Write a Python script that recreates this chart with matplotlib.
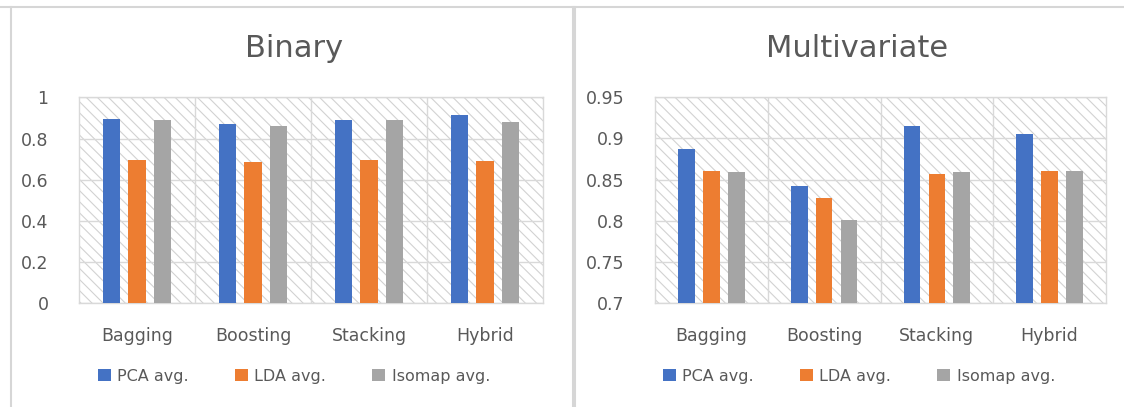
import matplotlib

matplotlib.use("Agg")
import matplotlib.pyplot as plt
from matplotlib.lines import Line2D
from matplotlib.patches import Patch, Rectangle
import numpy as np

categories = ["Bagging", "Boosting", "Stacking", "Hybrid"]
series_names = ["PCA avg.", "LDA avg.", "Isomap avg."]
colors = ["#4472C4", "#ED7D31", "#A5A5A5"]

# Binary
binary_pca = [0.895, 0.870, 0.890, 0.916]
binary_lda = [0.696, 0.684, 0.696, 0.691]
binary_iso = [0.888, 0.862, 0.888, 0.882]
binary_ticks = [0, 0.2, 0.4, 0.6, 0.8, 1.0]
binary_ticklabels = ["0", "0.2", "0.4", "0.6", "0.8", "1"]

# Multivariate
multi_pca = [0.887, 0.842, 0.915, 0.906]
multi_lda = [0.861, 0.828, 0.857, 0.861]
multi_iso = [0.859, 0.801, 0.859, 0.861]
multi_ticks = [0.7, 0.75, 0.8, 0.85, 0.9, 0.95]
multi_ticklabels = ["0.7", "0.75", "0.8", "0.85", "0.9", "0.95"]

W, H = 1124, 407
TEXT = "#595959"
GRID = "#d9d9d9"

plt.rcParams["font.family"] = ["DejaVu Sans"]
plt.rcParams["hatch.linewidth"] = 0.8

fig = plt.figure(figsize=(W / 100, H / 100), dpi=100)


def px(x0, y0, x1, y1):
    # pixel box (top-left origin) -> figure fraction rect
    return [x0 / W, 1 - y1 / H, (x1 - x0) / W, (y1 - y0) / H]


def draw_panel(rect, title, title_x, data, ticks, ticklabels, legend_x):
    ax = fig.add_axes(rect)
    ax.set_xlim(-0.5, len(categories) - 0.5)
    ax.set_ylim(ticks[0], ticks[-1])
    ax.add_patch(Rectangle((0, 0), 1, 1, transform=ax.transAxes, facecolor="white",
                           edgecolor="#d2d2d2", hatch="\\\\\\", lw=0, zorder=0))
    for t in ticks:
        ax.axhline(t, color=GRID, lw=1.0, zorder=1)
    for b in np.arange(0.5, len(categories) - 0.5, 1.0):
        ax.axvline(b, color=GRID, lw=1.0, zorder=1)
    x = np.arange(len(categories))
    offsets = [-0.22, 0.0, 0.22]
    for vals, off, c in zip(data, offsets, colors):
        ax.bar(x + off, vals, width=0.148, color=c, zorder=3)
    for s in ax.spines.values():
        s.set_color(GRID)
        s.set_linewidth(1.0)
    ax.set_yticks(ticks)
    ax.set_yticklabels(ticklabels)
    ax.set_xticks(x)
    ax.set_xticklabels(categories)
    ax.tick_params(axis="y", length=0, pad=22, labelsize=12.5, labelcolor=TEXT)
    ax.tick_params(axis="x", length=0, pad=17, labelsize=12.5, labelcolor=TEXT)
    fig.text(title_x / W, 1 - 57 / H, title, ha="center", va="baseline",
             fontsize=22, color=TEXT)
    handles = [Patch(facecolor=c, edgecolor="none") for c in colors]
    fig.legend(handles, series_names, loc="center", bbox_to_anchor=(legend_x / W, 1 - 376 / H),
               ncol=3, frameon=False, fontsize=11.5, labelcolor=TEXT,
               handlelength=0.8, handleheight=0.8, handletextpad=0.4, columnspacing=2.9)
    return ax


draw_panel(px(79, 97.3, 543, 303.3), "Binary", 294,
           [binary_pca, binary_lda, binary_iso], binary_ticks, binary_ticklabels, 294)
draw_panel(px(655, 97.3, 1106, 303.3), "Multivariate", 857,
           [multi_pca, multi_lda, multi_iso], multi_ticks, multi_ticklabels, 859)

# chart frames
frame = "#d6d6d6"
for xs, ys in [((11, 11), (7, H)), ((0, W), (7, 7)), ((572.5, 572.5), (7, H)), ((575, 575), (7, H))]:
    fig.add_artist(Line2D([xs[0] / W, xs[1] / W], [1 - ys[0] / H, 1 - ys[1] / H],
                          color=frame, lw=1.5))

fig.savefig("out.png", dpi=100)
